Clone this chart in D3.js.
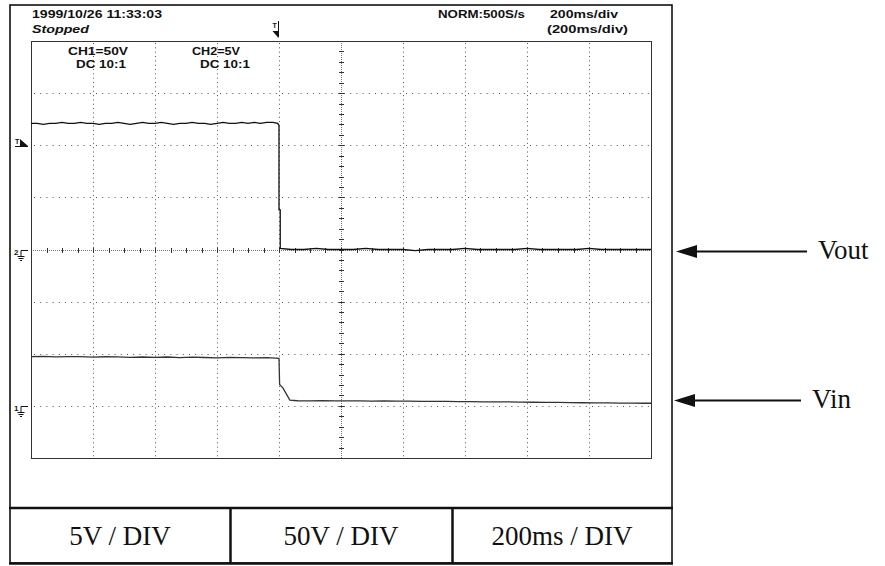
<!DOCTYPE html>
<html>
<head>
<meta charset="utf-8">
<script src="https://cdn.jsdelivr.net/npm/d3@7"></script>
<style>
  body { margin: 0; background: #fff; }
  .hdr { font-family: "Liberation Sans", Arial, sans-serif; font-size: 10.5px; font-weight: bold; fill: #111; }
  .cell { font-family: "Liberation Serif", "Times New Roman", serif; font-size: 27px; fill: #111; }
</style>
</head>
<body>
<div id="scope"></div>
<script>
// scope screen: 10 time divisions x 8 voltage divisions
var msPerDiv = 200;
var ch2VoltsPerDiv = 5;   // Vout
var ch1VoltsPerDiv = 50;  // Vin
var ch2Offset = 0;        // ground marker "2", in divisions
var ch1Offset = -3;       // ground marker "1", in divisions
var triggerTime = 800;    // ms
var triggerLevel = 10.2;  // V on CH2

// Vout (CH2) samples: time in ms, level in V
var voutTime = [0, 20, 40, 60, 80, 100, 120, 140, 160, 180, 200, 220, 240, 260, 280, 300, 320, 340, 360, 380,
  400, 420, 440, 460, 480, 500, 520, 540, 560, 580, 600, 620, 640, 660, 680, 700, 720, 740, 760, 780,
  796, 800, 800, 804, 804, 840, 880, 920, 960, 1000, 1040, 1080, 1120, 1160, 1200, 1240, 1280, 1320, 1360, 1400,
  1440, 1480, 1520, 1560, 1600, 1640, 1680, 1720, 1760, 1800, 1840, 1880, 1920, 1960, 2000];
var voutVolts = [12.1, 12.1, 12.0, 12.1, 12.1, 12.2, 12.1, 12.1, 12.2, 12.1, 12.1, 12.0, 12.1, 12.1, 12.2, 12.1, 12.0, 12.1, 12.2, 12.1,
  12.1, 12.2, 12.1, 12.0, 12.1, 12.1, 12.2, 12.1, 12.1, 12.0, 12.1, 12.2, 12.1, 12.1, 12.2, 12.1, 12.2, 12.1, 12.2, 12.2,
  12.1, 11.9, 3.8, 3.8, 0.1, 0.0, 0.0, 0.1, 0.0, 0.0, 0.0, 0.1, 0.0, 0.0, 0.0, -0.1, 0.0, 0.0, 0.0, 0.1,
  0.0, 0.0, 0.0, 0.0, 0.1, 0.0, 0.0, 0.0, 0.0, 0.1, 0.0, 0.0, 0.0, 0.0, 0.0];

// Vin (CH1) samples
var vinTime = [0, 40, 80, 120, 160, 200, 240, 280, 320, 360, 400, 440, 480, 520, 560, 600, 640, 680, 720, 760,
  790, 800, 802, 813, 835, 860, 900, 940, 980, 1020, 1060, 1100, 1140, 1180, 1220, 1260, 1300, 1340, 1380, 1420,
  1460, 1500, 1540, 1580, 1620, 1660, 1700, 1740, 1780, 1820, 1860, 1900, 1940, 1980, 2000];
var vinVolts = [47.2, 47.5, 47.0, 47.3, 47.2, 46.8, 47.1, 47.0, 46.6, 46.9, 46.5, 46.9, 46.3, 46.7, 46.4, 46.1, 46.5, 46.2, 46.0, 46.3,
  45.8, 45.5, 20.5, 17.0, 5.6, 4.9, 4.8, 4.9, 4.8, 4.7, 4.8, 4.6, 4.7, 4.5, 4.6, 4.4, 4.3, 4.4, 4.1, 4.0,
  3.9, 3.8, 3.8, 3.6, 3.5, 3.4, 3.3, 3.1, 3.0, 2.9, 2.8, 2.7, 2.6, 2.5, 2.5];

var cellLabels = ["5V / DIV", "50V / DIV", "200ms / DIV"];

var svgWidth = 885;
var svgHeight = 566;

var screen = { left: 31, right: 651, top: 41, bottom: 458 };

var svg = d3.select("#scope")
    .append("svg")
    .attr("width", svgWidth)
    .attr("height", svgHeight)
    .style("display", "block");

svg.append("rect").attr("width", svgWidth).attr("height", svgHeight).attr("fill", "#fff");

// scales
var x = d3.scaleLinear().domain([0, 10 * msPerDiv]).range([screen.left, screen.right]);
var yDiv = d3.scaleLinear().domain([-4, 4]).range([screen.bottom, screen.top]);
var yVout = v => yDiv(ch2Offset + v / ch2VoltsPerDiv);
var yVin = v => yDiv(ch1Offset + v / ch1VoltsPerDiv);

// outer frame and bottom table
svg.append("rect")
    .attr("x", 10).attr("y", 5).attr("width", 662).attr("height", 558)
    .attr("fill", "none").attr("stroke", "#111").attr("stroke-width", 1.6);
svg.append("line").attr("x1", 9).attr("x2", 673).attr("y1", 508).attr("y2", 508)
    .attr("stroke", "#111").attr("stroke-width", 2.5);
svg.append("line").attr("x1", 9).attr("x2", 673).attr("y1", 563.5).attr("y2", 563.5)
    .attr("stroke", "#111").attr("stroke-width", 2.5);
[230.5, 452.5].forEach(function(cx) {
  svg.append("line").attr("x1", cx).attr("x2", cx).attr("y1", 508).attr("y2", 564)
      .attr("stroke", "#111").attr("stroke-width", 2.5);
});
var cellCenters = [120, 341, 562];
svg.selectAll("text.cell")
    .data(cellLabels)
    .enter()
    .append("text")
    .attr("class", "cell")
    .attr("x", (d, i) => cellCenters[i])
    .attr("y", 545)
    .attr("text-anchor", "middle")
    .text(d => d);

// grid
var grid = svg.append("g");
x.ticks(10).filter(t => t > 0 && t < 2000 && t !== 1000).forEach(function(t) {
  grid.append("line")
      .attr("x1", x(t) + 0.5).attr("x2", x(t) + 0.5)
      .attr("y1", screen.top + 2).attr("y2", screen.bottom)
      .attr("stroke", "#555").attr("stroke-width", 1)
      .attr("stroke-dasharray", "1 3.34");
});
yDiv.ticks(8).filter(t => t > -4 && t < 4 && t !== 0).forEach(function(t) {
  grid.append("line")
      .attr("x1", screen.left + 3).attr("x2", screen.right)
      .attr("y1", Math.round(yDiv(t)) + 0.5).attr("y2", Math.round(yDiv(t)) + 0.5)
      .attr("stroke", "#555").attr("stroke-width", 1)
      .attr("stroke-dasharray", "1 5.2");
});

// centre axes with minor ticks
var cx0 = Math.round(x(1000)) + 0.5;
var cy0 = Math.round(yDiv(0)) + 0.5;
grid.append("line").attr("x1", cx0).attr("x2", cx0).attr("y1", screen.top).attr("y2", screen.bottom)
    .attr("stroke", "#777").attr("stroke-dasharray", "1 1");
grid.append("line").attr("x1", screen.left).attr("x2", screen.right).attr("y1", cy0).attr("y2", cy0)
    .attr("stroke", "#777").attr("stroke-dasharray", "1 1");
yDiv.ticks(40).forEach(function(t) {
  grid.append("line").attr("x1", cx0 - 2.5).attr("x2", cx0 + 2.5)
      .attr("y1", Math.round(yDiv(t)) + 0.5).attr("y2", Math.round(yDiv(t)) + 0.5)
      .attr("stroke", "#333");
});
x.ticks(50).forEach(function(t) {
  grid.append("line").attr("y1", cy0 - 2.5).attr("y2", cy0 + 2.5)
      .attr("x1", Math.round(x(t)) + 0.5).attr("x2", Math.round(x(t)) + 0.5)
      .attr("stroke", "#333");
});

// screen border
svg.append("rect")
    .attr("x", screen.left + 0.5).attr("y", screen.top + 0.5)
    .attr("width", screen.right - screen.left).attr("height", screen.bottom - screen.top)
    .attr("fill", "none").attr("stroke", "#333").attr("stroke-width", 1);

// traces
var voutLine = d3.line().x(d => x(d[0])).y(d => yVout(d[1]));
var vinLine = d3.line().x(d => x(d[0])).y(d => yVin(d[1]));

svg.append("path")
    .datum(d3.zip(voutTime, voutVolts))
    .attr("d", voutLine)
    .attr("fill", "none").attr("stroke", "#111").attr("stroke-width", 1.3);
svg.append("path")
    .datum(d3.zip(vinTime, vinVolts))
    .attr("d", vinLine)
    .attr("fill", "none").attr("stroke", "#333").attr("stroke-width", 1.3);

// markers: trigger position (top), trigger level (left), channel grounds
var tx = Math.round(x(triggerTime)) - 0.5;
svg.append("line").attr("x1", tx).attr("x2", tx).attr("y1", 21).attr("y2", 37).attr("stroke", "#111");
svg.append("text").attr("x", tx - 6).attr("y", 28).attr("font-family", "Liberation Sans, sans-serif")
    .attr("font-size", 7).attr("font-weight", "bold").attr("fill", "#111").text("T");
svg.append("path").attr("d", `M${tx - 6},31 L${tx},31 L${tx},38 Z`).attr("fill", "#111");

var ty = Math.round(yVout(triggerLevel));
svg.append("text").attr("x", 15).attr("y", ty + 1).attr("font-family", "Liberation Sans, sans-serif")
    .attr("font-size", 7).attr("font-weight", "bold").attr("fill", "#111").text("T");
svg.append("path").attr("d", `M20,${ty - 4} L28,${ty + 3} L20,${ty + 3} Z`).attr("fill", "#111");
svg.append("line").attr("x1", 15).attr("x2", 28).attr("y1", ty + 3.5).attr("y2", ty + 3.5).attr("stroke", "#111");

function groundMarker(label, gy) {
  gy = Math.round(gy) + 0.5;
  var g = svg.append("g").attr("stroke", "#111").attr("fill", "none");
  g.append("path").attr("d", `M28,${gy} L21,${gy} L21,${gy + 6}`);
  g.append("line").attr("x1", 17.5).attr("x2", 24.5).attr("y1", gy + 6).attr("y2", gy + 6);
  g.append("line").attr("x1", 18.5).attr("x2", 23.5).attr("y1", gy + 8).attr("y2", gy + 8);
  g.append("line").attr("x1", 20).attr("x2", 22).attr("y1", gy + 10).attr("y2", gy + 10);
  svg.append("text").attr("x", 14).attr("y", gy + 4).attr("font-family", "Liberation Sans, sans-serif")
      .attr("font-size", 8).attr("font-weight", "bold").attr("fill", "#111").text(label);
}
groundMarker("2", yDiv(ch2Offset));
groundMarker("1", yDiv(ch1Offset));

// header texts
var hdr = [
  { t: "1999/10/26  11:33:03", x: 32, y: 18, w: 130 },
  { t: "Stopped", x: 32, y: 33, w: 57, italic: true },
  { t: "CH1=50V", x: 68, y: 55, w: 60 },
  { t: "DC  10:1", x: 76, y: 68, w: 50 },
  { t: "CH2=5V", x: 192, y: 55, w: 48 },
  { t: "DC  10:1", x: 200, y: 68, w: 50 },
  { t: "NORM:500S/s", x: 438, y: 18, w: 87 },
  { t: "200ms/div", x: 550, y: 18, w: 68 },
  { t: "(200ms/div)", x: 547, y: 33, w: 81 }
];
svg.selectAll("text.hdr")
    .data(hdr)
    .enter()
    .append("text")
    .attr("class", "hdr")
    .attr("x", d => d.x)
    .attr("y", d => d.y)
    .attr("textLength", d => d.w)
    .attr("lengthAdjust", "spacingAndGlyphs")
    .style("font-style", d => d.italic ? "italic" : "normal")
    .text(d => d.t);

// Vout / Vin pointers
function pointer(label, level, tipX, endX, textX, baseline) {
  var py = Math.round(level) + 0.5;
  svg.append("line").attr("x1", tipX + 15).attr("x2", endX).attr("y1", py).attr("y2", py)
      .attr("stroke", "#111").attr("stroke-width", 2);
  svg.append("path").attr("d", `M${tipX},${py} L${tipX + 21},${py - 6.5} L${tipX + 21},${py + 6.5} Z`)
      .attr("fill", "#111");
  svg.append("text").attr("class", "cell").attr("x", textX).attr("y", baseline).text(label);
}
pointer("Vout", yDiv(ch2Offset) + 1, 676, 807, 818, 259);
pointer("Vin", yVin(vinVolts[vinVolts.length - 1]) - 3, 674, 801, 812, 408);
</script>
</body>
</html>
